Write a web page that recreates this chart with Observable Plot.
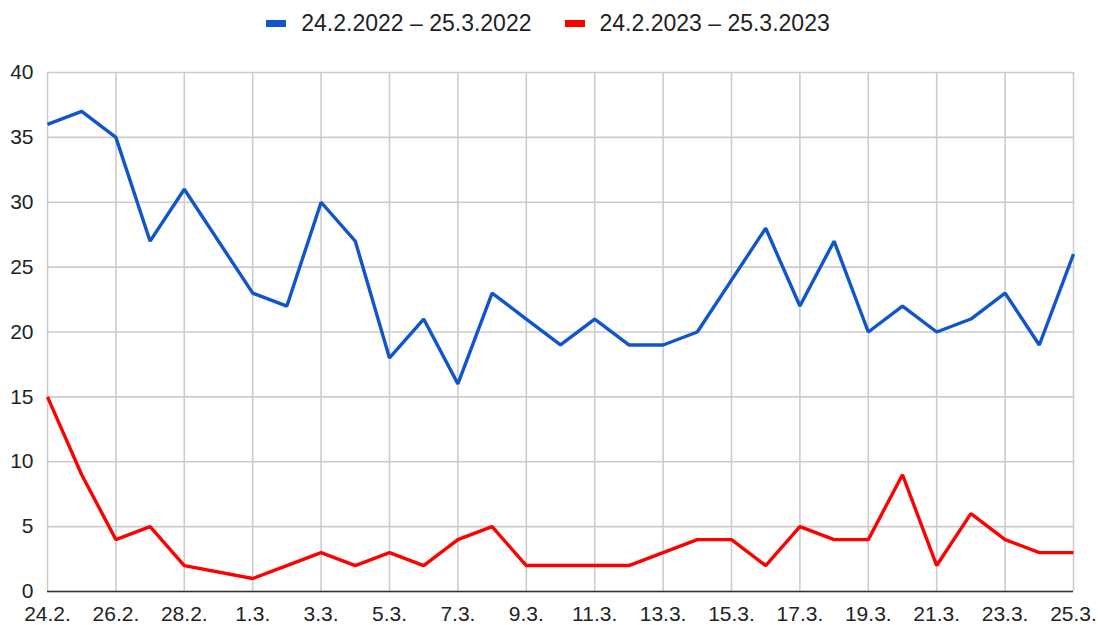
<!DOCTYPE html>
<html>
<head>
<meta charset="utf-8">
<script src="https://cdn.jsdelivr.net/npm/d3@7"></script>
<script src="https://cdn.jsdelivr.net/npm/@observablehq/plot@0.6"></script>
<style>
  html, body { margin: 0; padding: 0; background: #fff; }
  body { width: 1098px; height: 625px; overflow: hidden; font-family: "Liberation Sans", Arial, sans-serif; }
  #legend { height: 46px; display: flex; justify-content: center; align-items: center; gap: 33px; font-size: 23px; color: #222; box-sizing: border-box; padding-right: 2px; }
  .item { display: flex; align-items: center; }
  .sw { width: 20px; height: 7px; margin-right: 15px; }
</style>
</head>
<body>
<div id="legend"></div>
<div id="chart"></div>
<script>
const days = ["24.2.","25.2.","26.2.","27.2.","28.2.","29.2.","1.3.","2.3.","3.3.","4.3.","5.3.","6.3.","7.3.","8.3.","9.3.","10.3.","11.3.","12.3.","13.3.","14.3.","15.3.","16.3.","17.3.","18.3.","19.3.","20.3.","21.3.","22.3.","23.3.","24.3.","25.3."];
const series2022 = [36,37,35,27,31,null,23,22,30,27,18,21,16,23,21,19,21,19,19,20,24,28,22,27,20,22,20,21,23,19,26];
const series2023 = [15,9,4,5,2,null,1,2,3,2,3,2,4,5,2,2,2,2,3,4,4,2,5,4,4,9,2,6,4,3,3];
const seriesNames = ["24.2.2022 – 25.3.2022", "24.2.2023 – 25.3.2023"];
const seriesColors = ["#1155cc", "#ff0000"];
const yTicks = [0,5,10,15,20,25,30,35,40];
const xTickLabels = days.filter((d, i) => i % 2 === 0);

const rows = [];
[series2022, series2023].forEach((vals, s) => {
  vals.forEach((v, i) => { if (v != null) rows.push({day: days[i], value: v, series: seriesNames[s]}); });
});

const legend = document.getElementById("legend");
seriesNames.forEach((n, i) => {
  const it = document.createElement("div");
  it.className = "item";
  it.innerHTML = `<div class="sw" style="background:${seriesColors[i]}"></div><span>${n}</span>`;
  legend.appendChild(it);
});

const chart = Plot.plot({
  width: 1098,
  height: 579,
  marginTop: 26,
  marginBottom: 34,
  marginLeft: 47,
  marginRight: 25,
  style: { fontFamily: "Liberation Sans, Arial, sans-serif", fontSize: "21px", color: "#222", overflow: "visible" },
  x: { type: "point", domain: days, padding: 0, round: false, label: null },
  y: { domain: [0, 40], label: null },
  color: { domain: seriesNames, range: seriesColors },
  marks: [
    Plot.gridX(xTickLabels, { stroke: "#cccccc", strokeOpacity: 1, strokeWidth: 1.6 }),
    Plot.gridY(yTicks, { stroke: "#cccccc", strokeOpacity: 1, strokeWidth: 1.6 }),
    Plot.axisX(xTickLabels, { tickSize: 0, tickPadding: 15 }),
    Plot.axisY(yTicks, { tickSize: 0, tickPadding: 14 }),
    Plot.ruleY([0], { stroke: "#333", strokeWidth: 1.6 }),
    Plot.line(rows, { x: "day", y: "value", z: "series", stroke: "series", strokeWidth: 3.4, strokeLinejoin: "miter", strokeLinecap: "butt" })
  ]
});
document.getElementById("chart").appendChild(chart);
</script>
</body>
</html>
